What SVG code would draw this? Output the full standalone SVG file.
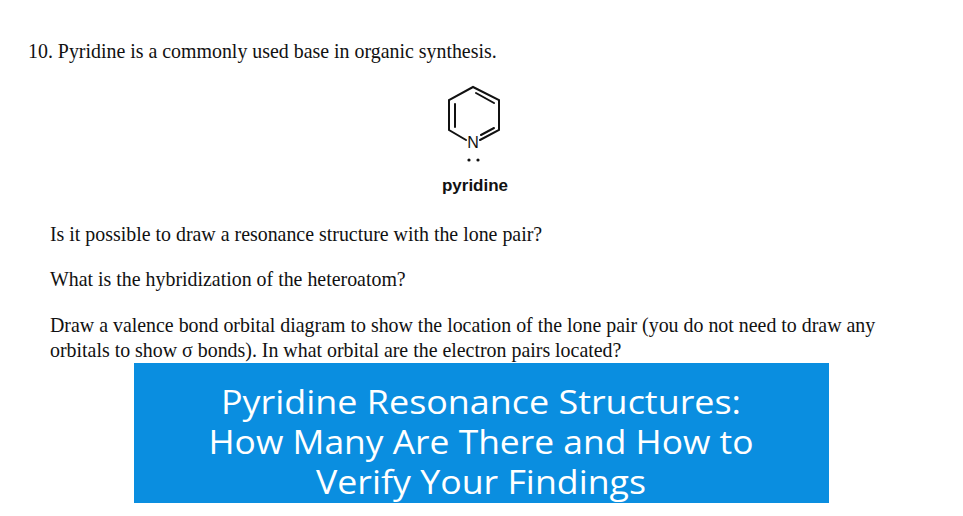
<svg xmlns="http://www.w3.org/2000/svg" width="963" height="516" viewBox="0 0 963 516">
<style>
.t{font-family:"Liberation Serif",serif;font-size:19.9px;fill:#111}
.b{stroke:#111;stroke-width:2;fill:none;stroke-linecap:round}
.h{font-family:"Open Sans","Noto Sans",sans-serif;font-size:32px;fill:#fff;text-anchor:middle}
</style>
<rect width="963" height="516" fill="#fff"/>
<text class="t" x="28" y="58">10. Pyridine is a commonly used base in organic synthesis.</text>
<g id="pyridine">
<path class="b" d="M466,140 L449,130 L449,100 L473,87 L499,100 L499,130 L480,140"/>
<path class="b" d="M455,104 L455,127 M476,93 L494,103 M481,135 L494,128"/>
<text x="473" y="148" font-family="Liberation Sans,sans-serif" font-size="16" text-anchor="middle" fill="#111">N</text>
<circle cx="469" cy="160" r="1.6" fill="#111"/><circle cx="478" cy="160" r="1.6" fill="#111"/>
<text x="475" y="191" font-family="Liberation Sans,sans-serif" font-size="17" font-weight="bold" text-anchor="middle" fill="#111">pyridine</text>
</g>
<text class="t" x="50" y="241">Is it possible to draw a resonance structure with the lone pair?</text>
<text class="t" x="50" y="286">What is the hybridization of the heteroatom?</text>
<text class="t" x="50" y="332">Draw a valence bond orbital diagram to show the location of the lone pair (you do not need to draw any</text>
<text class="t" x="50" y="357">orbitals to show σ bonds). In what orbital are the electron pairs located?</text>
<g id="banner">
<rect x="134" y="363" width="695" height="140" fill="#0a8ee0"/>
<text class="h" x="481" y="414" textLength="520" lengthAdjust="spacingAndGlyphs">Pyridine Resonance Structures:</text>
<text class="h" x="481" y="454" textLength="545" lengthAdjust="spacingAndGlyphs">How Many Are There and How to</text>
<text class="h" x="481" y="494" textLength="330" lengthAdjust="spacingAndGlyphs">Verify Your Findings</text>
</g>
</svg>
